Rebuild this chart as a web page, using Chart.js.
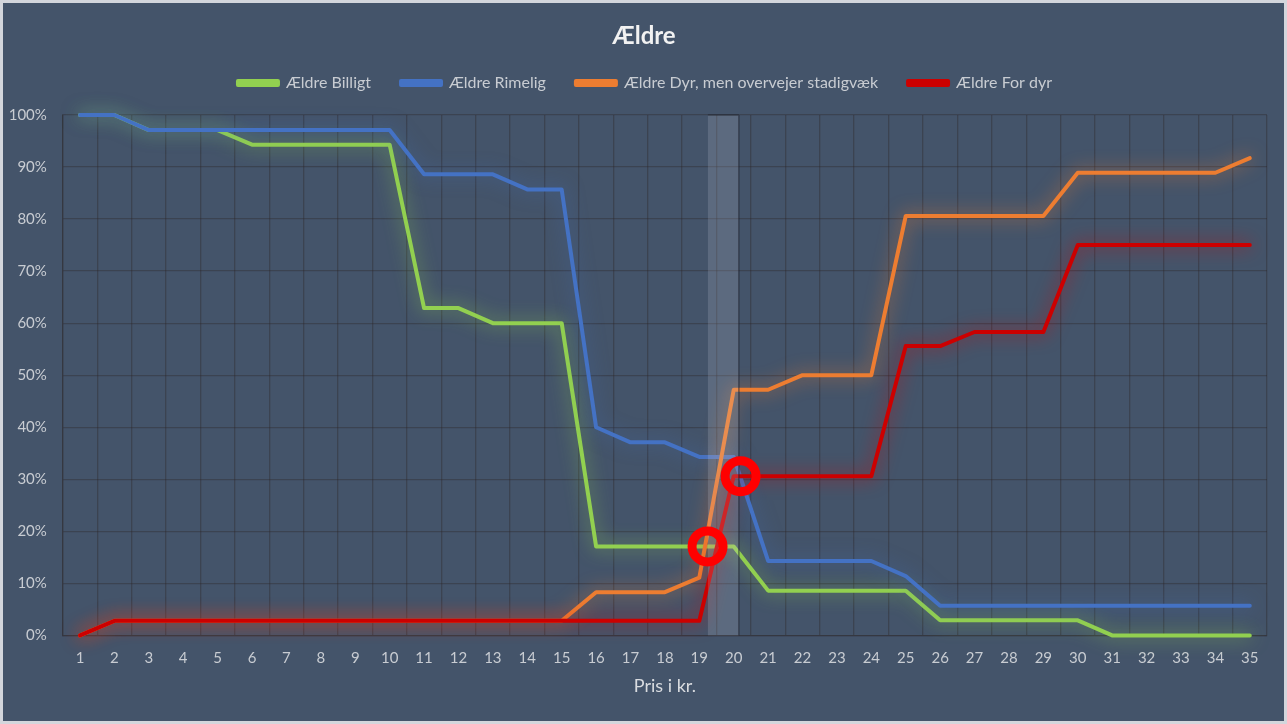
<!DOCTYPE html>
<html lang="da">
<head>
  <meta charset="UTF-8">
  <meta name="viewport" content="width=device-width, initial-scale=1.0">
  <title>Ældre</title>
  <script src="https://cdn.jsdelivr.net/npm/chart.js"></script>
  <style>
    html, body {
      margin: 0;
      padding: 0;
      background: #d3d6dc;
    }
    .chart-box {
      position: absolute;
      left: 3px;
      top: 3px;
      width: 1281px;
      height: 718px;
      background: #44546a;
    }
  </style>
</head>
<body>

<div class="chart-box">
  <canvas id="myChart"></canvas>
</div>

<script>
  // Pris i kr.
  var labels = ['1', '2', '3', '4', '5', '6', '7', '8', '9', '10', '11', '12', '13', '14', '15', '16', '17', '18',
    '19', '20', '21', '22', '23', '24', '25', '26', '27', '28', '29', '30', '31', '32', '33', '34', '35'];

  // andel i procent
  var billigt = [100, 100, 97.1, 97.1, 97.1, 94.3, 94.3, 94.3, 94.3, 94.3, 62.9, 62.9, 60, 60, 60, 17.1, 17.1, 17.1,
    17.1, 17.1, 8.6, 8.6, 8.6, 8.6, 8.6, 2.9, 2.9, 2.9, 2.9, 2.9, 0, 0, 0, 0, 0];
  var rimelig = [100, 100, 97.1, 97.1, 97.1, 97.1, 97.1, 97.1, 97.1, 97.1, 88.6, 88.6, 88.6, 85.7, 85.7, 40, 37.1, 37.1,
    34.3, 34.3, 14.3, 14.3, 14.3, 14.3, 11.4, 5.7, 5.7, 5.7, 5.7, 5.7, 5.7, 5.7, 5.7, 5.7, 5.7];
  var dyr = [0, 2.8, 2.8, 2.8, 2.8, 2.8, 2.8, 2.8, 2.8, 2.8, 2.8, 2.8, 2.8, 2.8, 2.8, 8.3, 8.3, 8.3,
    11.1, 47.2, 47.2, 50, 50, 50, 80.6, 80.6, 80.6, 80.6, 80.6, 88.9, 88.9, 88.9, 88.9, 88.9, 91.7];
  var forDyr = [0, 2.8, 2.8, 2.8, 2.8, 2.8, 2.8, 2.8, 2.8, 2.8, 2.8, 2.8, 2.8, 2.8, 2.8, 2.8, 2.8, 2.8,
    2.8, 30.6, 30.6, 30.6, 30.6, 30.6, 55.6, 55.6, 58.3, 58.3, 58.3, 75, 75, 75, 75, 75, 75];

  var yTicks = [0, 10, 20, 30, 40, 50, 60, 70, 80, 90, 100];

  // prisintervallet mellem 19 og 20 (kategori-indeks) og de to skæringspunkter
  var interval = [18.25, 19.15];
  var skaering = [{x: 18.24, y: 17.1}, {x: 19.2, y: 30.6}];

  var textColor = '#c8ccd2';
  var gridColor = 'rgba(45, 40, 42, 0.38)';

  // blød glød omkring linjerne
  var glowPlugin = {
    id: 'glow',
    beforeDatasetDraw: function(chart, args) {
      var ds = chart.data.datasets[args.index];
      var ctx = chart.ctx;
      ctx.save();
      ctx.shadowColor = ds.glow;
      ctx.shadowBlur = 18;
    },
    afterDatasetDraw: function(chart) {
      chart.ctx.restore();
    }
  };

  // titel og forklaring lidt mod højre
  var nudgePlugin = {
    id: 'nudge',
    afterLayout: function(chart) {
      if (chart.titleBlock) {
        chart.titleBlock.left += 9;
        chart.titleBlock.right += 9;
      }
      if (chart.legend) {
        chart.legend.left += 10;
        chart.legend.right += 10;
      }
    }
  };

  // gråt bånd + røde ringe
  var markPlugin = {
    id: 'marks',
    afterDatasetsDraw: function(chart) {
      var x = chart.scales.x, y = chart.scales.y, ctx = chart.ctx, area = chart.chartArea;
      var x0 = x.getPixelForValue(interval[0]);
      var x1 = x.getPixelForValue(interval[1]);
      ctx.save();
      ctx.fillStyle = 'rgba(215, 220, 232, 0.17)';
      ctx.fillRect(x0, area.top, x1 - x0, area.bottom - area.top);
      ctx.strokeStyle = 'rgba(30, 35, 45, 0.55)';
      ctx.lineWidth = 1.5;
      ctx.beginPath();
      ctx.moveTo(x1, area.top);
      ctx.lineTo(x1, area.bottom);
      ctx.moveTo(x0, area.top);
      ctx.lineTo(x1, area.top);
      ctx.stroke();

      ctx.strokeStyle = '#ff0000';
      ctx.lineWidth = 9;
      skaering.forEach(function(p) {
        ctx.beginPath();
        ctx.arc(x.getPixelForValue(p.x), y.getPixelForValue(p.y), 15.5, 0, Math.PI * 2);
        ctx.stroke();
      });
      ctx.restore();
    }
  };

  function serie(label, values, color, glow, order) {
    return {
      label: label,
      data: values,
      borderColor: color,
      backgroundColor: color,
      glow: glow,
      borderWidth: 4,
      borderJoinStyle: 'round',
      borderCapStyle: 'round',
      pointRadius: 0,
      pointHoverRadius: 0,
      tension: 0,
      clip: false,
      order: order
    };
  }

  var data = {
    labels: labels,
    datasets: [
      serie('Ældre Billigt', billigt, '#92d050', 'rgba(146, 208, 80, 0.75)', 3),
      serie('Ældre Rimelig', rimelig, '#4472c4', 'rgba(68, 114, 196, 0.55)', 2),
      serie('Ældre Dyr, men overvejer stadigvæk', dyr, '#ed7d31', 'rgba(237, 125, 49, 0.8)', 1),
      serie('Ældre For dyr', forDyr, '#cc0000', 'rgba(220, 0, 0, 0.75)', 0)
    ]
  };

  var options = {
    responsive: true,
    maintainAspectRatio: false,
    animation: false,
    layout: {
      padding: {left: 0, right: 17, top: 0, bottom: 0}
    },
    scales: {
      x: {
        offset: true,
        grid: {color: gridColor, offset: true, drawTicks: false, lineWidth: 1.3},
        border: {color: gridColor, width: 1.3},
        ticks: {color: textColor, padding: 14, font: {family: 'Lato', size: 15}, maxRotation: 0, autoSkip: false},
        title: {
          display: true,
          text: 'Pris i kr.',
          color: '#d9dce0',
          font: {family: 'Lato', size: 18},
          padding: {top: -6, bottom: 24}
        }
      },
      y: {
        min: 0,
        max: 100,
        afterBuildTicks: function(scale) {
          scale.ticks = yTicks.map(function(v) { return {value: v}; });
        },
        afterFit: function(scale) {
          scale.width = 59.8;
        },
        grid: {color: gridColor, drawTicks: false, lineWidth: 1.3},
        border: {color: gridColor, width: 1.3},
        ticks: {
          color: textColor,
          padding: 16,
          font: {family: 'Lato', size: 15},
          callback: function(value) { return value + '%'; }
        }
      }
    },
    plugins: {
      title: {
        display: true,
        text: 'Ældre',
        color: '#f2f2f2',
        font: {family: 'Lato', size: 24, weight: 'bold', lineHeight: 1},
        padding: {top: 21, bottom: -3}
      },
      legend: {
        display: true,
        reverse: true,
        labels: {
          color: textColor,
          font: {family: 'Lato', size: 16},
          boxWidth: 40,
          boxHeight: 4,
          padding: 30
        }
      },
      // luft mellem forklaring og plotområde
      subtitle: {
        display: true,
        text: ' ',
        weight: 500,
        font: {size: 10, lineHeight: 1},
        padding: {top: 4, bottom: 0}
      },
      tooltip: {enabled: false}
    }
  };

  var ctx = document.getElementById('myChart').getContext('2d');
  var myChart = new Chart(ctx, {
    type: 'line',
    data: data,
    options: options,
    plugins: [glowPlugin, nudgePlugin, markPlugin]
  });
</script>

</body>
</html>
